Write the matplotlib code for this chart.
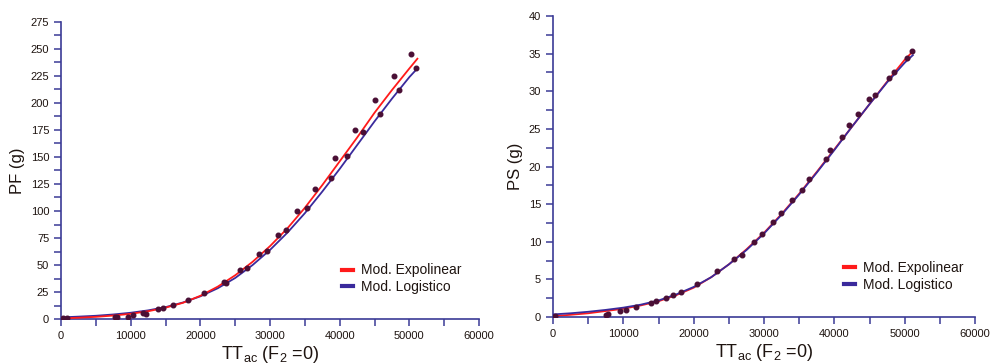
import numpy as np
import matplotlib
matplotlib.use('Agg')
import matplotlib.pyplot as plt
from matplotlib.ticker import MultipleLocator

plt.rcParams['font.family'] = ['Liberation Sans', 'DejaVu Sans']

# observed points, PF (left)
pf_x = [300, 900, 7750, 8100, 9570, 10380, 11720, 12150, 13970, 14690, 16120, 18280,
        20530, 23400, 23700, 25690, 26750, 28470, 29620, 31200, 32300, 33830, 35360,
        36460, 38710, 39330, 41000, 42200, 43400, 45070, 45790, 47850, 48520, 50240, 50960]
pf_y = [0.5, 0.8, 2.2, 1.5, 2.0, 3.7, 5.2, 5.0, 9.0, 10.0, 13.0, 17.6,
        23.7, 34.5, 33.5, 45.3, 46.9, 59.8, 63.2, 77.7, 82.3, 99.9, 102.4,
        120.8, 130.1, 149.2, 151.0, 174.8, 173.3, 202.5, 190.2, 224.8, 211.8, 245.7, 232.4]

# observed points, PS (right)
ps_x = [300, 7830, 7600, 9580, 10430, 11860, 13990, 14700, 16130, 17080, 18260, 20490,
        23340, 25760, 26800, 28600, 29640, 31210, 32390, 33910, 35330, 36430, 38800,
        39370, 41030, 42120, 43400, 44960, 45770, 47810, 48520, 50280, 50990]
ps_y = [0.2, 0.44, 0.3, 0.8, 0.97, 1.33, 1.86, 2.08, 2.52, 2.97, 3.32, 4.43,
        6.11, 7.75, 8.19, 9.97, 10.99, 12.62, 13.87, 15.5, 16.92, 18.38, 20.95,
        22.15, 23.92, 25.56, 27.02, 29.0, 29.46, 31.76, 32.56, 34.42, 35.3]

# fitted curves
fit_x = [0, 2500, 5000, 7500, 10000, 12500, 15000, 17500, 20000, 22500, 25000, 27500,
         30000, 32500, 35000, 37500, 40000, 42500, 45000, 47500, 50000, 51150]
pf_expo = [0.5, 1.2, 2.0, 3.2, 4.8, 7.2, 10.5, 15.0, 21.5, 30.0, 40.5, 53.0,
           67.5, 84.0, 103.0, 124.0, 146.0, 168.0, 191.0, 212.0, 232.0, 241.0]
pf_logi = [1.5, 2.2, 3.0, 4.2, 5.8, 8.0, 11.0, 15.3, 21.0, 28.5, 38.0, 50.0,
           64.0, 80.0, 98.0, 118.0, 139.0, 161.0, 183.0, 204.0, 224.0, 232.0]
ps_expo = [0.1, 0.3, 0.5, 0.8, 1.1, 1.55, 2.1, 2.9, 3.9, 5.3, 7.0, 9.0,
           11.2, 13.7, 16.4, 19.3, 22.3, 25.3, 28.3, 31.3, 34.2, 35.3]
ps_logi = [0.35, 0.5, 0.7, 0.95, 1.25, 1.65, 2.2, 3.0, 4.0, 5.3, 7.0, 8.9,
           11.1, 13.6, 16.3, 19.2, 22.2, 25.3, 28.3, 31.2, 33.8, 34.8]

spine_c = '#3b3b96'
red = '#ff1a1a'
blue = '#3a2a9c'
dot_c = '#4a0f35'
txt_c = '#1e1410'

fig = plt.figure(figsize=(9.91, 3.64), dpi=100)
ax1 = fig.add_axes([0.0616, 0.1236, 0.4218, 0.816])
ax2 = fig.add_axes([0.558, 0.129, 0.426, 0.827])


def style(ax, ymax, ymaj, ymin, ylabel, legpos):
    ax.set_xlim(0, 60000)
    ax.set_ylim(0, ymax)
    for s in ['top', 'right']:
        ax.spines[s].set_visible(False)
    for s in ['left', 'bottom']:
        ax.spines[s].set_color(spine_c)
        ax.spines[s].set_linewidth(1.2)
    ax.xaxis.set_major_locator(MultipleLocator(10000))
    ax.xaxis.set_minor_locator(MultipleLocator(5000))
    ax.yaxis.set_major_locator(MultipleLocator(ymaj))
    ax.yaxis.set_minor_locator(MultipleLocator(ymin))
    ax.tick_params(which='both', direction='out', color=spine_c, width=1.1,
                   labelsize=8, labelcolor=txt_c)
    ax.tick_params(which='major', length=5)
    ax.tick_params(which='minor', length=5)
    ax.set_ylabel(ylabel, fontsize=12, color=txt_c, labelpad=4)
    ax.set_xlabel(r'TT$_{\mathregular{ac}}$ (F$_{\mathregular{2}}$ =0)',
                  fontsize=13, color=txt_c, labelpad=2)
    leg = ax.legend(loc='lower right', bbox_to_anchor=legpos, frameon=False,
                    fontsize=10, handlelength=0.8, handletextpad=0.6,
                    labelspacing=0.2, borderpad=0)
    for t in leg.get_texts():
        t.set_color(txt_c)
    for h in leg.get_lines():
        h.set_linewidth(3)


ax1.plot(fit_x, pf_expo, color=red, lw=1.3, label='Mod. Expolinear', zorder=3)
ax1.plot(fit_x, pf_logi, color=blue, lw=1.3, label='Mod. Logistico', zorder=2)
ax1.plot(pf_x, pf_y, 'o', color=dot_c, ms=3.3, zorder=4)
style(ax1, 275, 25, 12.5, 'PF (g)', (0.975, 0.06))

ax2.plot(fit_x, ps_expo, color=red, lw=1.3, label='Mod. Expolinear', zorder=2)
ax2.plot(fit_x, ps_logi, color=blue, lw=1.3, label='Mod. Logistico', zorder=3)
ax2.plot(ps_x, ps_y, 'o', color=dot_c, ms=3.3, zorder=4)
style(ax2, 40, 5, 2.5, 'PS (g)', (0.99, 0.06))

fig.savefig('out.png', dpi=100)
